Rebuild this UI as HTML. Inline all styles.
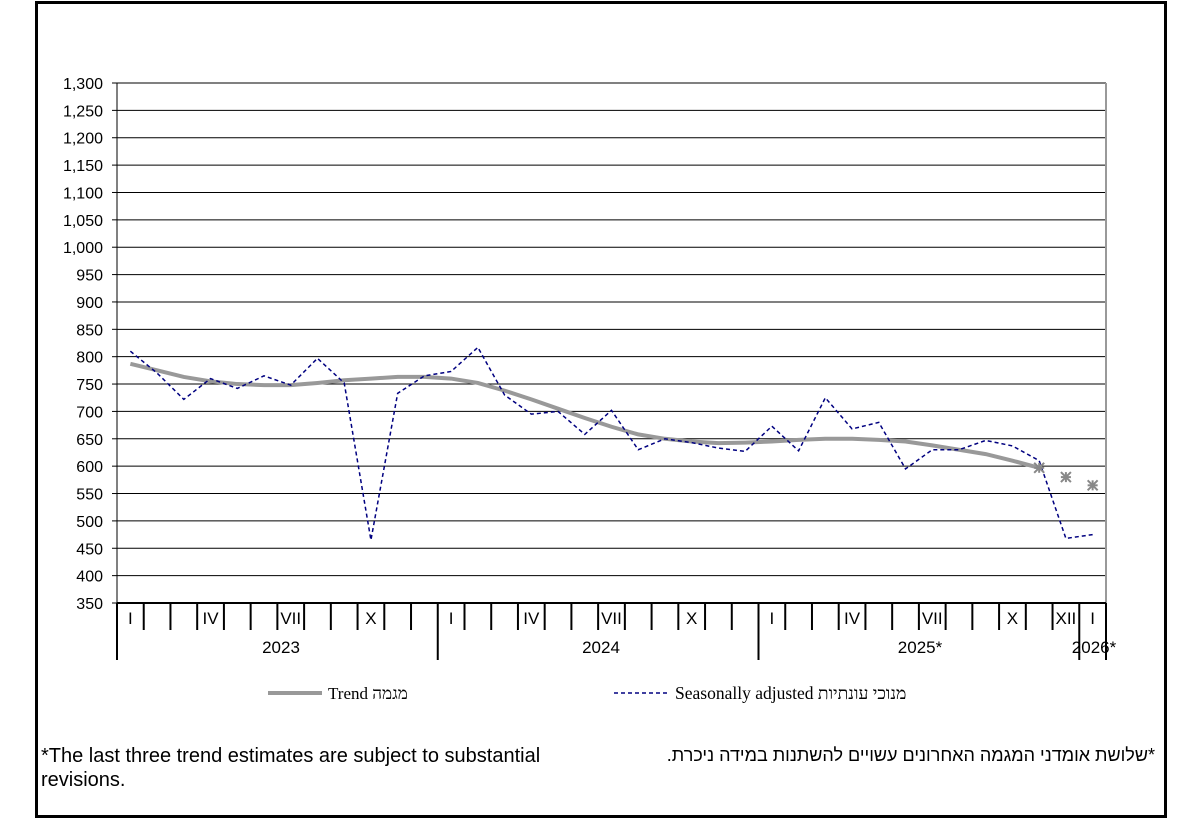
<!DOCTYPE html>
<html><head><meta charset="utf-8"><style>
html,body{margin:0;padding:0;background:#fff;}
body{width:1200px;height:817px;position:relative;overflow:hidden;font-family:"Liberation Sans",Arial,sans-serif;}
#frame{position:absolute;left:35px;top:1px;width:1126px;height:811px;border:3px solid #000;}
.t{position:absolute;font-size:18px;color:#000;}
</style></head><body>
<div id="frame"></div>
<svg id="s" width="1200" height="817" style="position:absolute;left:0;top:0"></svg>
<div class="t" style="left:41px;top:744px;line-height:24px;width:560px;font-size:20px;">*The last three trend estimates are subject to substantial revisions.</div>
<div class="t" style="right:45px;top:745px;font-family:'Liberation Sans','Noto Sans CJK SC',sans-serif;font-size:18px;" dir="rtl">*שלושת אומדני המגמה האחרונים עשויים להשתנות במידה ניכרת.</div>
<script>
const s=document.getElementById('s');let h='';
const X0=117,X1=1106,Y0=603,Y1=83,W=(X1-X0)/37;
const y=v=>Y0-(v-350)*(Y0-Y1)/950;
for(let v=350;v<=1300;v+=50){const yy=y(v);
 h+=`<line x1="${X0}" y1="${yy}" x2="${X1}" y2="${yy}" stroke="#000" stroke-width="1"/>`;
 h+=`<line x1="${X0-5}" y1="${yy}" x2="${X0}" y2="${yy}" stroke="#000"/>`;
 h+=`<text x="${X0-14}" y="${yy+6}" font-size="16" text-anchor="end" font-family="Liberation Sans">${v.toLocaleString('en-US')}</text>`;}
h+=`<line x1="${X0}" y1="${Y1}" x2="${X0}" y2="${Y0}" stroke="#000"/>`;
h+=`<line x1="${X1}" y1="${Y1}" x2="${X1}" y2="${Y0}" stroke="#999" stroke-width="2"/>`;
h+=`<line x1="${X0}" y1="${Y0}" x2="${X1}" y2="${Y0}" stroke="#000" stroke-width="2"/>`;
const lab={0:'I',3:'IV',6:'VII',9:'X'};
for(let i=0;i<=37;i++){const xx=X0+i*W;const yr=(i%12==0)||i==37;
 h+=`<line x1="${xx}" y1="${Y0}" x2="${xx}" y2="${yr?660:630}" stroke="#000" stroke-width="2"/>`;
 if(i<37){let m=i%12;let l=lab[m]||(i==35?'XII':'');if(l)h+=`<text x="${xx+W/2}" y="624" font-size="17" text-anchor="middle" font-family="Liberation Sans">${l}</text>`;}}
h+=`<text x="281" y="653" font-size="17" text-anchor="middle">2023</text><text x="601" y="653" font-size="17" text-anchor="middle">2024</text><text x="920" y="653" font-size="17" text-anchor="middle">2025*</text><text x="1094" y="653" font-size="17" text-anchor="middle">2026*</text>`;
const sa=[810,770,722,760,742,765,748,797,752,465,733,765,773,817,730,695,700,658,702,630,650,643,633,627,673,628,725,668,680,595,630,630,647,637,610,468,475];
const tr=[787,775,763,755,750,748,748,752,757,760,763,763,760,752,738,722,705,688,672,658,650,645,642,643,645,648,650,650,648,645,638,630,622,610,597];
const px=i=>X0+(i+0.5)*W;
h+=`<polyline fill="none" stroke="#999" stroke-width="4" points="${tr.map((v,i)=>px(i)+','+y(v)).join(' ')}"/>`;
h+=`<polyline fill="none" stroke="#000080" stroke-width="1.5" stroke-dasharray="4,3" points="${sa.map((v,i)=>px(i)+','+y(v)).join(' ')}"/>`;
[[34,597],[35,580],[36,565]].forEach(([i,v])=>{const cx=px(i),cy=y(v),r=5;
 h+=`<g stroke="#888" stroke-width="2"><line x1="${cx-r}" y1="${cy-r}" x2="${cx+r}" y2="${cy+r}"/><line x1="${cx-r}" y1="${cy+r}" x2="${cx+r}" y2="${cy-r}"/><line x1="${cx-r}" y1="${cy}" x2="${cx+r}" y2="${cy}"/><line x1="${cx}" y1="${cy-r}" x2="${cx}" y2="${cy+r}"/></g>`;});
h+=`<line x1="268" y1="693" x2="322" y2="693" stroke="#999" stroke-width="4"/>`;
h+=`<text x="328" y="699" font-size="17" font-family="Liberation Serif,serif">Trend מגמה</text>`;
h+=`<line x1="614" y1="693" x2="668" y2="693" stroke="#000080" stroke-width="1.5" stroke-dasharray="4,3"/>`;
h+=`<text x="675" y="699" font-size="17.5" font-family="Liberation Serif,serif">Seasonally adjusted מנוכי עונתיות</text>`;
s.innerHTML=h;
</script>
</body></html>
